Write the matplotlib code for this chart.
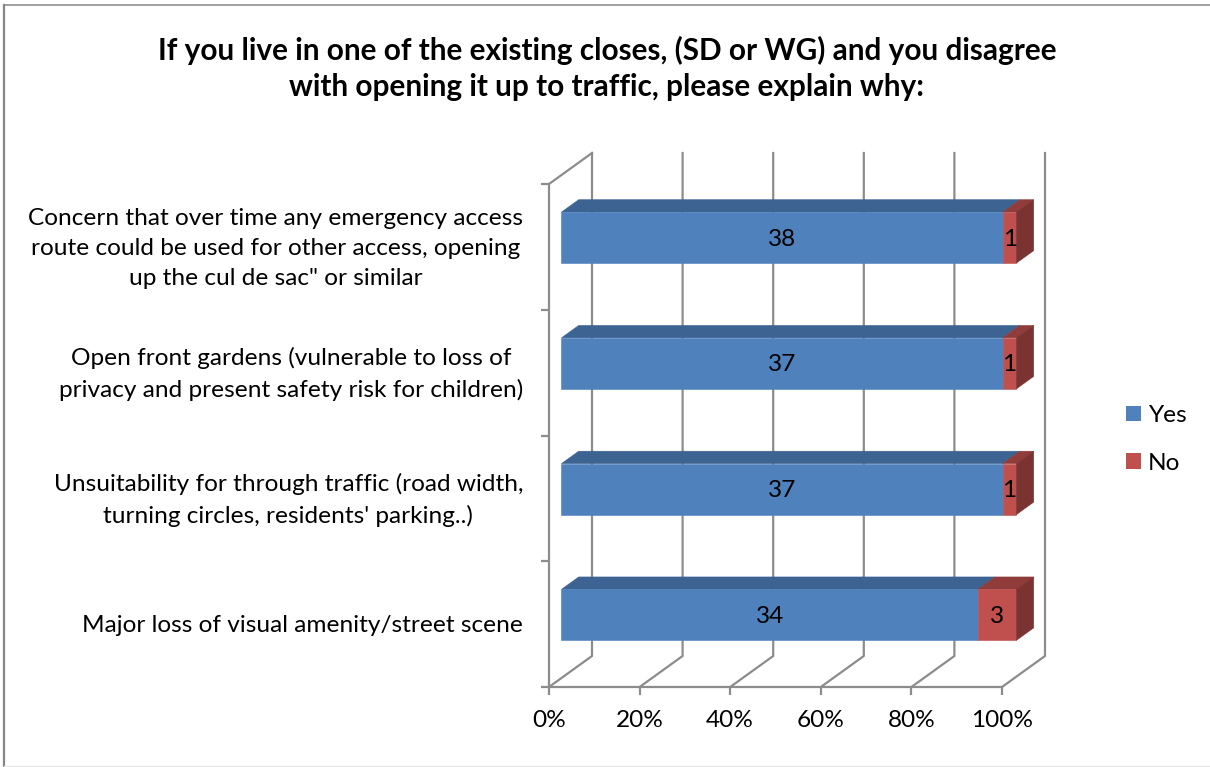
import matplotlib
matplotlib.use("Agg")
import matplotlib.pyplot as plt
from matplotlib.lines import Line2D
from matplotlib.patches import Polygon

plt.rcParams["font.family"] = ["Lato", "DejaVu Sans"]

W, H = 1210, 767

categories = [
    "Major loss of visual amenity/street scene",
    "Unsuitability for through traffic (road width,\nturning circles, residents' parking..)",
    "Open front gardens (vulnerable to loss of\nprivacy and present safety risk for children)",
    "Concern that over time any emergency access\nroute could be used for other access, opening\nup the cul de sac\" or similar",
]
yes_values = [34, 37, 37, 38]
no_values = [3, 1, 1, 1]
x_ticks = [0, 20, 40, 60, 80, 100]

GRID = "#8c8c8c"
BLUE, BLUE_TOP = "#4f81bd", "#3c6392"
RED, RED_TOP, RED_SIDE = "#c0504d", "#8f3c3a", "#7a3331"
FS = 17.6

fig = plt.figure(figsize=(W / 100, H / 100), dpi=100)

# chart border: only left and top show, the bottom is a faint line
fig.add_artist(Line2D([4 / W, 4 / W], [0, 1 - 4.5 / H], color="#868686", lw=1.6))
fig.add_artist(Line2D([4 / W, 1], [1 - 4.5 / H, 1 - 4.5 / H], color="#868686", lw=1.1))
fig.add_artist(Line2D([4 / W, 1], [1 / H, 1 / H], color="#e8e8e8", lw=1.0))

# front plane of the 3d box, in pixels of the figure
left, right, bottom, top = 549, 1002, 687, 184
ax = fig.add_axes([left / W, 1 - bottom / H, (right - left) / W, (bottom - top) / H])
ax.set_xlim(0, 100)
ax.set_ylim(0, 4)
ax.patch.set_visible(False)
for s in ("top", "right"):
    ax.spines[s].set_visible(False)
for s in ("left", "bottom"):
    ax.spines[s].set_color(GRID)
    ax.spines[s].set_linewidth(1.6)

# depth of the box, in data units
dx = 43 / (right - left) * 100
dy = 31 / (bottom - top) * 4

ax.set_xticks(x_ticks)
ax.set_xticklabels([f"{v}%" for v in x_ticks])
ax.set_yticks([0, 1, 2, 3, 4])
ax.set_yticklabels([])
ax.tick_params(axis="both", color=GRID, width=1.6, length=5.5, labelsize=FS)
ax.tick_params(axis="x", pad=11)

# walls
for v in x_ticks:
    ax.plot([v, v + dx, v + dx], [0, dy, 4 + dy], color=GRID, lw=1.6, clip_on=False, zorder=1)
ax.plot([0, dx], [4, 4 + dy], color=GRID, lw=1.6, clip_on=False, zorder=1)


def face(points, color, z=3):
    ax.add_patch(Polygon(points, closed=True, fc=color, ec=color, lw=0.4,
                         clip_on=False, zorder=z))


def bar_label(value, x, y):
    ax.annotate(str(value), xy=(x, y), xytext=(0, -1.5), textcoords="offset pixels",
                ha="center", va="center", fontsize=FS, color="black", zorder=5,
                annotation_clip=False)


bar_h = 0.405
d0, d1 = 0.29, 0.69
for i, (yes, no) in enumerate(zip(yes_values, no_values)):
    total = yes + no
    split = yes / total * 100
    y0 = i + 0.5 - bar_h / 2
    y1 = i + 0.5 + bar_h / 2
    ox, oy = d0 * dx, 0.3 * dy
    px, py = (d1 - d0) * dx, 0.4 * dy
    end = 100 * 455 / 453
    # blue
    face([(ox, y1 + oy), (split + ox, y1 + oy), (split + ox + px, y1 + oy + py), (ox + px, y1 + oy + py)], BLUE_TOP)
    face([(ox, y0 + oy), (split + ox, y0 + oy), (split + ox, y1 + oy), (ox, y1 + oy)], BLUE)
    # red
    face([(split + ox, y1 + oy), (end + ox, y1 + oy), (end + ox + px, y1 + oy + py), (split + ox + px, y1 + oy + py)], RED_TOP)
    face([(split + ox, y0 + oy), (end + ox, y0 + oy), (end + ox, y1 + oy), (split + ox, y1 + oy)], RED)
    face([(end + ox, y0 + oy), (end + ox + px, y0 + oy + py), (end + ox + px, y1 + oy + py), (end + ox, y1 + oy)], RED_SIDE)
    bar_label(yes, split / 2 + ox, i + 0.5 + oy)
    bar_label(no, (split + end) / 2 + ox, i + 0.5 + oy)
    ax.annotate(categories[i], xy=(0, i + 0.5), xycoords="data",
                xytext=(523, H - (bottom - (i + 0.5) * (bottom - top) / 4) - 1.5), textcoords="figure pixels",
                ha="right", va="center", multialignment="center", fontsize=FS, linespacing=1.55)

fig.text(607 / W, 1 - 68 / H,
         "If you live in one of the existing closes, (SD or WG) and you disagree\n"
         "with opening it up to traffic, please explain why:",
         ha="center", va="center", fontsize=21.4, fontweight="bold", linespacing=1.35)

# legend
legend_handles = [plt.Rectangle((0, 0), 1, 1, fc=BLUE, ec="none"),
                  plt.Rectangle((0, 0), 1, 1, fc=RED, ec="none")]
fig.legend(legend_handles, ["Yes", "No"], loc="center left", bbox_to_anchor=(1126 / W, 1 - 439.5 / H),
           frameon=False, fontsize=FS, handlelength=0.61, handleheight=0.61, handletextpad=0.29,
           labelspacing=1.09, borderpad=0, borderaxespad=0)

fig.savefig("out.png", dpi=100)
